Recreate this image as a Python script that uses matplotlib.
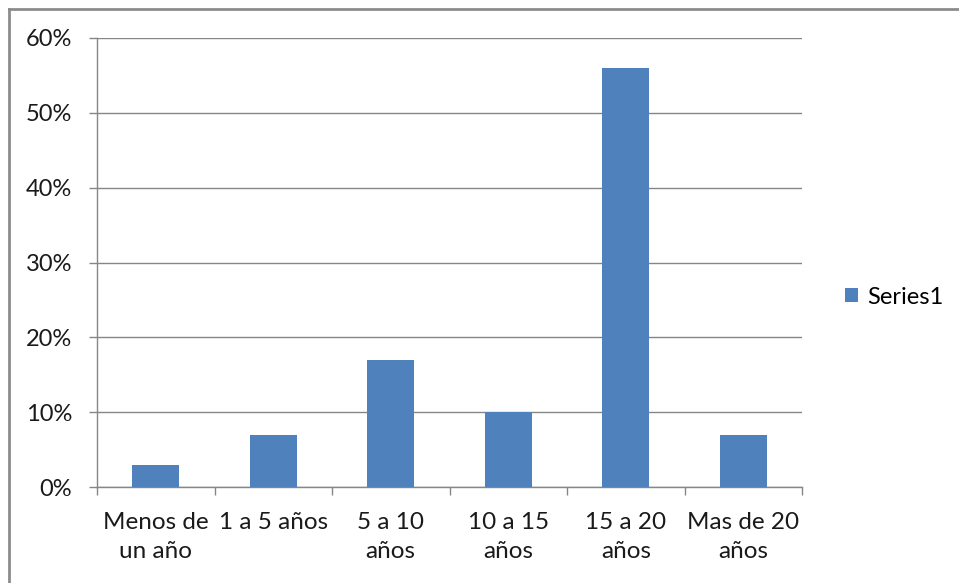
import matplotlib.pyplot as plt
from matplotlib.ticker import PercentFormatter, FixedLocator
from matplotlib.lines import Line2D

# Antigüedad: categorías y porcentaje de respuestas
categorias = ["Menos de\nun año", "1 a 5 años", "5 a 10\naños", "10 a 15\naños",
              "15 a 20\naños", "Mas de 20\naños"]
valores = [0.03, 0.07, 0.17, 0.10, 0.56, 0.07]
serie = "Series1"

plt.rcParams['font.family'] = ['Lato', 'DejaVu Sans']

color_barra = '#4f81bd'
color_eje = '#868686'
color_texto = '#1a1a1a'

fig = plt.figure(figsize=(9.59, 5.83), dpi=100)
ax = fig.add_axes([97 / 959, 1 - 487 / 583, (802 - 97) / 959, (487 - 38) / 583])

x = list(range(len(categorias)))
ax.bar(x, valores, width=0.4, color=color_barra, label=serie, zorder=3)

ax.set_xlim(-0.5, len(categorias) - 0.5)
ax.set_ylim(0, 0.6)
ax.set_yticks([i / 10 for i in range(7)])
ax.yaxis.set_major_formatter(PercentFormatter(1.0, decimals=0))
ax.grid(axis='y', color=color_eje, linewidth=1, zorder=0)

# etiquetas centradas, marcas entre categorías
ax.set_xticks(x)
ax.set_xticklabels(categorias, linespacing=1.5)
ax.xaxis.set_minor_locator(FixedLocator([i - 0.5 for i in range(len(categorias) + 1)]))
ax.tick_params(axis='x', which='major', length=0, pad=18, labelsize=17.5, colors=color_texto)
ax.tick_params(axis='x', which='minor', length=6, width=1, color=color_eje)
ax.tick_params(axis='y', length=6, width=1, color=color_eje, pad=12, labelsize=17,
               labelcolor=color_texto)

for lado in ['top', 'right']:
    ax.spines[lado].set_visible(False)
for lado in ['left', 'bottom']:
    ax.spines[lado].set_color(color_eje)
    ax.spines[lado].set_linewidth(1)

ax.legend(loc='center left', bbox_to_anchor=(1.061, 0.423), frameon=False,
          fontsize=17, handlelength=0.55, handleheight=0.55, handletextpad=0.4,
          borderpad=0, borderaxespad=0)

# marco gris del área del gráfico
fig.add_artist(Line2D([9 / 959, 9 / 959], [0, 1 - 9 / 583], transform=fig.transFigure,
                      color='#8c8c8c', linewidth=2))
fig.add_artist(Line2D([9 / 959, 1], [1 - 9 / 583, 1 - 9 / 583], transform=fig.transFigure,
                      color='#8c8c8c', linewidth=2))

fig.savefig('out.png', dpi=100)
